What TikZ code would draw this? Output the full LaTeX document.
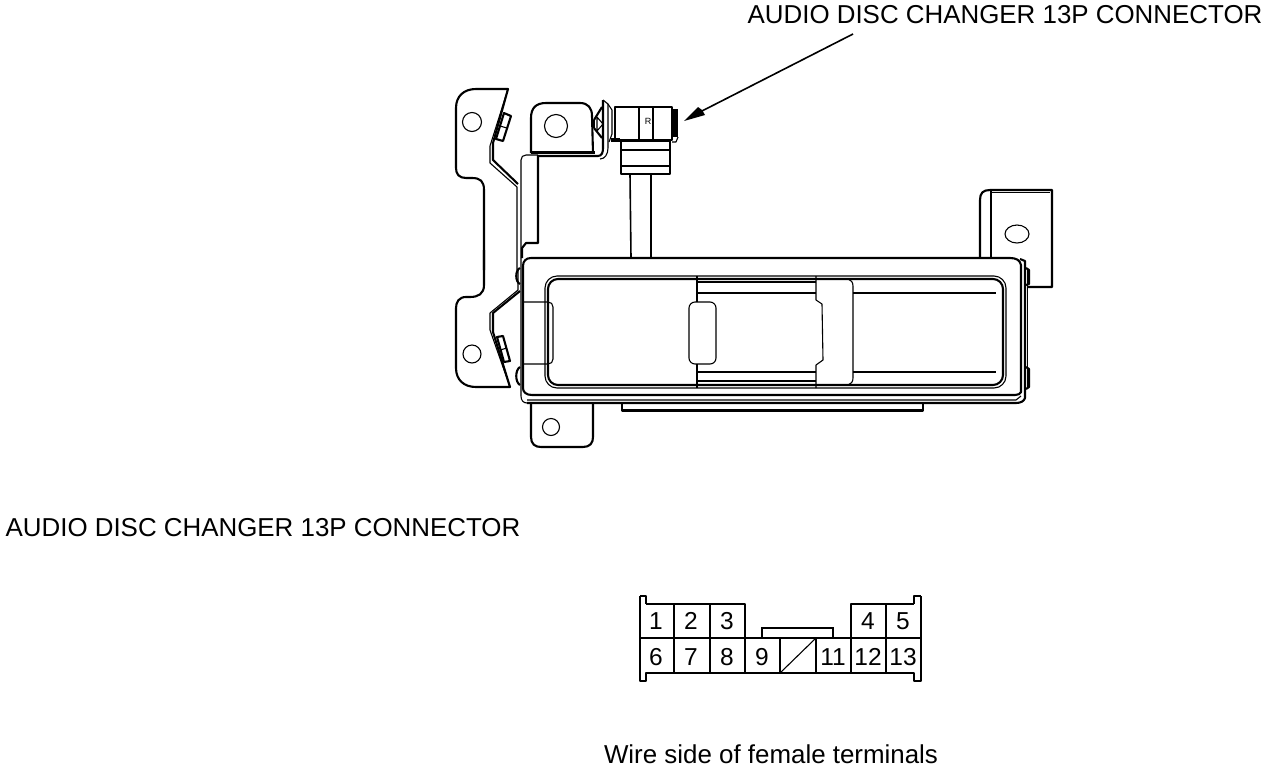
\documentclass[tikz,border=0pt]{standalone}
\usepackage{fontspec}
\setmainfont{Liberation Sans}
\tikzset{
 thk/.style={line width=2.1pt,line join=round},
 thn/.style={line width=1.1pt,line join=round},
 med/.style={line width=1.6pt},
 lbl/.style={inner sep=0pt,font=\fontsize{25.9}{28}\selectfont},
 pin/.style={inner sep=0pt,anchor=base,font=\fontsize{24.5}{26}\selectfont}
}
\begin{document}
\begin{tikzpicture}[x=1pt,y=-1pt]
\useasboundingbox (0,0) rectangle (1280,772);
% labels
\node[lbl] (toplabel) at (1005,15) {AUDIO DISC CHANGER 13P CONNECTOR};
\node[lbl] (leftlabel) at (263,528) {AUDIO DISC CHANGER 13P CONNECTOR};
\node[lbl] (wirelabel) at (771,754) {Wire side of female terminals};
% arrow
\coordinate (arrowstart) at (853,34);
\coordinate (arrowbase) at (700,112);
\coordinate (arrowtip) at (684,121);
\draw[med] (arrowstart) -- (arrowbase);
\fill (arrowtip) -- (698,107) -- (702,110) -- (705,115) -- cycle;
% upper left bracket
\draw[thk] (484,270) -- (484,190) .. controls (484,181) and (480,178) .. (472,178) -- (466,178) .. controls (459,178) and (456,174) .. (456,168) -- (456,108) .. controls (456,96) and (464,89) .. (476,89) -- (508,89) -- (493,143) -- (493,160) -- (518,184);
\draw[thn] (508,89) -- (490,146) -- (490,163) -- (517,187) -- (517,270);
\draw[thn] (472,122) circle[radius=9.5];
\draw[thk] (496,139) -- (504,113) -- (511,116) -- (503,141) -- cycle;
\draw[thn] (500,126) -- (507,128);
% mid bracket
\draw[thk] (531,153) -- (531,118) .. controls (531,108) and (536,103) .. (546,103) -- (580,103) .. controls (588,103) and (592,108) .. (592,116) -- (593,153);
\draw[thk] (531,152.5) -- (595,152.5);
\draw[thk] (538,156) -- (598,156) .. controls (602,156) and (603,152) .. (603,148) -- (603,100);
\draw[thn] (521,258) -- (521,160) .. controls (521,157) and (523,155) .. (526,155) -- (538,155);
\draw[thk] (538,155) -- (538,243) -- (526,243) -- (522,248) -- (522,258);
\draw[thn] (556,126) circle[radius=11.5];
\draw[thn] (600,159) .. controls (605,159) and (608,154) .. (608,148) -- (608,104) -- (603,100);
% clip
\draw[thk] (594,120) -- (602,107);
\draw[thk] (594,128) -- (602,138);
\draw[thn] (594,120) -- (594,128);
\draw[thn] (597,117) -- (597,131) -- (603,124) -- cycle;
\draw[thn] (608,104) -- (612,110) -- (612,134) -- (609,142);
% connector
\draw[thk] (615,107) rectangle (672,140);
\draw[thn] (639,107) -- (639,140);
\draw[thn] (653,107) -- (653,140);
\node[inner sep=0pt,font=\fontsize{9}{9}\selectfont] (rmark) at (648,121) {R};
\fill (673,109) rectangle (678,137);
\draw[thn] (672,142) -- (676,142) -- (678,137);
\fill (611,138) rectangle (620,142);
\draw[thk] (621,141) rectangle (670,174);
\draw[thn] (621,150) -- (670,150);
\draw[thn] (621,166) -- (670,166);
\draw[med] (630,174) -- (631,258);
\draw[med] (651,174) -- (651,258);
% lower left bracket
\draw[thk] (484,250) -- (484,285) .. controls (484,294) and (478,297) .. (470,297) -- (466,297) .. controls (459,297) and (456,302) .. (456,308) -- (456,368) .. controls (456,380) and (464,387) .. (476,387) -- (510,387) -- (493,332) -- (493,313) -- (520,291);
\draw[thn] (510,387) -- (490,330) -- (490,313) -- (518,290) -- (518,270);
\draw[thn] (472,354) circle[radius=9];
\draw[thk] (497,337) -- (503,336) -- (510,361) -- (504,362) -- cycle;
\draw[thn] (500,350) -- (507,348);
% bumps
\draw[thk] (520,268) .. controls (515,270) and (515,282) .. (520,284);
\draw[thk] (520,367) .. controls (515,370) and (515,382) .. (520,385);
% lower tab
\draw[thk] (531,403) -- (531,437) .. controls (531,444) and (535,447) .. (541,447) -- (583,447) .. controls (590,447) and (593,443) .. (593,437) -- (593,403);
\draw[thn] (551,427) circle[radius=8.5];
% right tab
\draw[thk] (980,258) -- (980,200) .. controls (980,193) and (983,190) .. (990,190) -- (1052,190) -- (1052,287) -- (1027,287);
\draw[thn] (991,190) -- (991,258);
\draw[thn] (991,192.5) -- (1050,192.5);
\draw[thn] (1017,234) ellipse[x radius=12,y radius=9];
% box
\draw[thk] (523,388) -- (523,266) .. controls (523,261) and (526,258) .. (531,258) -- (1010,258) .. controls (1016,258) and (1020,260) .. (1021,265) -- (1021,392) .. controls (1020,394) and (1018,395) .. (1015,395) -- (532,395) .. controls (526,395) and (523,392) .. (523,388);
\draw[thn] (521,258) -- (521,396) .. controls (521,400) and (523,403) .. (527,403);
\draw[thk] (527,403) -- (1016,403) .. controls (1021,403) and (1024,401) .. (1025,398) -- (1025,261) -- (1020,259);
\draw[thn] (527,400) -- (1016,400) -- (1021,396);
\draw[thn] (1027.5,268) -- (1027.5,389);
\draw[thk] (622,404) -- (622,410.5) -- (923,410.5) -- (923,404);
% right screws
\draw[thk] (1026,268) -- (1029,270) -- (1029,284) -- (1026,285);
\draw[thk] (1026,367) -- (1029,369) -- (1029,387) -- (1026,389);
% window
\draw[thn,rounded corners=12pt] (545,276) rectangle (1006,388);
\draw[thk,rounded corners=10pt] (548,279) rectangle (1003,385);
% left window tab
\draw[thn] (523,302) -- (548,302) .. controls (551,302) and (553,304) .. (553,307) -- (553,359) .. controls (553,362) and (551,364) .. (548,364) -- (523,364);
% centre
\draw[thn,rounded corners=6pt] (689,302) rectangle (716,364);
\draw[thn] (697,276) -- (697,302);
\draw[thn] (697,364) -- (697,388);
\draw[thn] (816,276) -- (816,300) -- (822,304) -- (823,360) -- (816,365) -- (816,388);
\draw[thn] (697,282) -- (816,282);
\draw[thn] (697,293) -- (816,293);
\draw[thn] (697,372) -- (816,372);
\draw[thn] (697,381) -- (816,381);
\draw[thn] (848,279) .. controls (851,280) and (853,282) .. (853,286) -- (853,378) .. controls (853,382) and (851,384) .. (848,385);
\draw[thn] (853,293) -- (996,293);
\draw[thn] (853,372) -- (996,372);
% pin connector
\draw[thk] (646,604) -- (745,604) -- (745,673);
\draw[thk] (851,673) -- (851,604) -- (914,604);
\draw[thk] (640,596) -- (646,596) -- (646,604);
\draw[thk] (921,596) -- (914,596) -- (914,604);
\draw[thk] (640,596) -- (640,681) -- (646,681) -- (646,673) -- (914,673) -- (914,681) -- (921,681) -- (921,596);
\draw[thn] (640,638) -- (921,638);
\draw[med] (762,638) -- (762,628) -- (833,628) -- (833,638);
\draw[med] (674,604) -- (674,673);
\draw[med] (710,604) -- (710,673);
\draw[med] (780,638) -- (780,673);
\draw[med] (816,638) -- (816,673);
\draw[med] (886,604) -- (886,673);
\draw[thn] (780,673) -- (816,638);
\node[pin] (p1) at (656,629) {1};
\node[pin] (p2) at (691,629) {2};
\node[pin] (p3) at (727,629) {3};
\node[pin] (p4) at (868,629) {4};
\node[pin] (p5) at (903,629) {5};
\node[pin] (p6) at (656,665) {6};
\node[pin] (p7) at (691,665) {7};
\node[pin] (p8) at (727,665) {8};
\node[pin] (p9) at (762,665) {9};
\node[pin] (p11) at (833,665) {11};
\node[pin] (p12) at (868,665) {12};
\node[pin] (p13) at (903,665) {13};
\end{tikzpicture}
\end{document}
